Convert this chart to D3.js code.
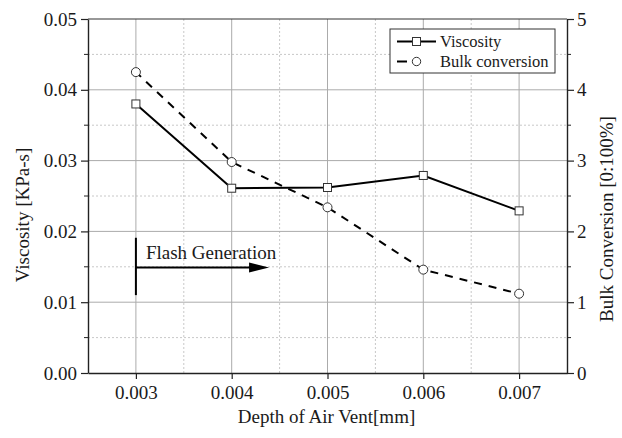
<!DOCTYPE html>
<html>
<head>
<meta charset="utf-8">
<script src="https://cdn.jsdelivr.net/npm/d3@7"></script>
<style>
  html, body { margin: 0; padding: 0; background: #fff; }
  svg { display: block; }
  svg text { font-family: "Liberation Serif", Tinos, "Times New Roman", Times, "Nimbus Roman", "DejaVu Serif", "Noto Serif", serif !important; }
</style>
</head>
<body>
<svg id="chart" width="622" height="438"></svg>
<script>
// Air vent depth (mm) on the x axis
const ventDepth = [0.003, 0.004, 0.005, 0.006, 0.007];
// Viscosity in KPa-s (left axis)
const viscosity = [0.0380, 0.0261, 0.0262, 0.0279, 0.0229];
// Bulk conversion on a 0..5 scale (right axis)
const bulkConversion = [4.25, 2.98, 2.34, 1.46, 1.12];

const xTicks = [0.003, 0.004, 0.005, 0.006, 0.007];
const xMinor = [0.0035, 0.0045, 0.0055, 0.0065];
const yLeftTicks = [0.00, 0.01, 0.02, 0.03, 0.04, 0.05];
const yLeftMinor = [0.005, 0.015, 0.025, 0.035, 0.045];
const yRightTicks = [0, 1, 2, 3, 4, 5];
const yRightMinor = [0.5, 1.5, 2.5, 3.5, 4.5];

const seriesNames = ["Viscosity", "Bulk conversion"];

// "Flash Generation" marker: starts at the first vent depth and points right
const flashStart = 0.003;
const flashEnd = 0.00439;
const flashLevel = 0.0149;
const flashSpan = [0.0110, 0.0191];
const flashText = "Flash Generation";

const W = 622, H = 438;
const m = { left: 88, right: 55, top: 19, bottom: 65 };
const iw = W - m.left - m.right, ih = H - m.top - m.bottom;

const svg = d3.select("#chart");
const g = svg.append("g").attr("transform", `translate(${m.left},${m.top})`);

const x = d3.scaleLinear().domain([0.0025, 0.0075]).range([0, iw]);
const yL = d3.scaleLinear().domain([0, 0.05]).range([ih, 0]);
const yR = d3.scaleLinear().domain([0, 5]).range([ih, 0]);

// grid: dotted minor lines, solid major lines
const grid = g.append("g");
grid.selectAll(".xm").data(xMinor).join("line")
  .attr("x1", d => x(d)).attr("x2", d => x(d)).attr("y1", 0).attr("y2", ih)
  .attr("stroke", "#c8c8c8").attr("stroke-dasharray", "2,2");
grid.selectAll(".ym").data(yLeftMinor).join("line")
  .attr("x1", 0).attr("x2", iw).attr("y1", d => yL(d)).attr("y2", d => yL(d))
  .attr("stroke", "#c8c8c8").attr("stroke-dasharray", "2,2");
grid.selectAll(".xM").data(xTicks).join("line")
  .attr("x1", d => x(d)).attr("x2", d => x(d)).attr("y1", 0).attr("y2", ih)
  .attr("stroke", "#ababab");
grid.selectAll(".yM").data(yLeftTicks.filter(d => d > 0 && d < 0.05)).join("line")
  .attr("x1", 0).attr("x2", iw).attr("y1", d => yL(d)).attr("y2", d => yL(d))
  .attr("stroke", "#ababab");

// top frame line
g.append("line").attr("x1", 0).attr("x2", iw).attr("y1", 0).attr("y2", 0)
  .attr("stroke", "#333").attr("stroke-width", 1.2);

const fontSize = 19;
function styleAxis(sel) {
  sel.attr("font-family", null).attr("font-size", null);
  sel.select(".domain").attr("stroke", "#222").attr("stroke-width", 1.4);
  sel.selectAll(".tick line").attr("stroke", "#222").attr("stroke-width", 1.2);
  sel.selectAll(".tick text").attr("fill", "#1a1a1a").style("font-size", fontSize + "px");
}

// minor ticks on the vertical axes
g.append("g").selectAll("line").data(yLeftMinor).join("line")
  .attr("x1", -4).attr("x2", 0).attr("y1", d => yL(d)).attr("y2", d => yL(d))
  .attr("stroke", "#222");
g.append("g").selectAll("line").data(yRightMinor).join("line")
  .attr("x1", iw).attr("x2", iw + 4).attr("y1", d => yR(d)).attr("y2", d => yR(d))
  .attr("stroke", "#222");

const xAxis = g.append("g").attr("transform", `translate(0,${ih})`)
  .call(d3.axisBottom(x).tickValues(xTicks).tickFormat(d3.format(".3f"))
    .tickSize(6).tickSizeOuter(0).tickPadding(7));
styleAxis(xAxis);

const yAxisL = g.append("g")
  .call(d3.axisLeft(yL).tickValues(yLeftTicks).tickFormat(d3.format(".2f"))
    .tickSize(7).tickSizeOuter(0).tickPadding(4));
styleAxis(yAxisL);

const yAxisR = g.append("g").attr("transform", `translate(${iw},0)`)
  .call(d3.axisRight(yR).tickValues(yRightTicks).tickFormat(d3.format("d"))
    .tickSize(7).tickSizeOuter(0).tickPadding(3));
styleAxis(yAxisR);

// axis titles
const titleStyle = s => s.attr("fill", "#1a1a1a").style("font-size", "19px").attr("text-anchor", "middle");
svg.append("text").attr("x", m.left + iw / 2 - 1).attr("y", 423)
  .text("Depth of Air Vent[mm]").call(titleStyle);
svg.append("text").attr("transform", `translate(29,${m.top + ih / 2 + 19}) rotate(-90)`)
  .text("Viscosity [KPa-s]").call(titleStyle);
svg.append("text").attr("transform", `translate(613,${m.top + ih / 2 + 23}) rotate(-90)`)
  .text("Bulk Conversion [0:100%]").call(titleStyle);

// series lines
const viscLine = d3.line().x((d, i) => x(ventDepth[i])).y(d => yL(d));
const bulkLine = d3.line().x((d, i) => x(ventDepth[i])).y(d => yR(d));

g.append("path").datum(bulkConversion).attr("d", bulkLine)
  .attr("fill", "none").attr("stroke", "#000").attr("stroke-width", 2)
  .attr("stroke-dasharray", "8,7").attr("stroke-dashoffset", -14);
g.append("path").datum(viscosity).attr("d", viscLine)
  .attr("fill", "none").attr("stroke", "#000").attr("stroke-width", 2);

// markers
const sq = 8;
g.append("g").selectAll("rect").data(viscosity).join("rect")
  .attr("x", (d, i) => x(ventDepth[i]) - sq / 2).attr("y", d => yL(d) - sq / 2)
  .attr("width", sq).attr("height", sq)
  .attr("fill", "#fff").attr("stroke", "#333").attr("stroke-width", 1);
g.append("g").selectAll("circle").data(bulkConversion).join("circle")
  .attr("cx", (d, i) => x(ventDepth[i])).attr("cy", d => yR(d)).attr("r", 4.5)
  .attr("fill", "#fff").attr("stroke", "#333").attr("stroke-width", 1);

// flash generation annotation
const ann = g.append("g");
ann.append("line")
  .attr("x1", x(flashStart)).attr("x2", x(flashStart))
  .attr("y1", yL(flashSpan[0])).attr("y2", yL(flashSpan[1]))
  .attr("stroke", "#000").attr("stroke-width", 2);
const ax0 = x(flashStart), ax1 = x(flashEnd), ay = yL(flashLevel);
ann.append("line").attr("x1", ax0).attr("x2", ax1 - 16).attr("y1", ay).attr("y2", ay)
  .attr("stroke", "#000").attr("stroke-width", 2);
ann.append("path")
  .attr("d", `M${ax1},${ay} L${ax1 - 20},${ay - 5} L${ax1 - 20},${ay + 5} Z`)
  .attr("fill", "#000");
ann.append("text").attr("x", ax0 + 10).attr("y", ay - 8.5)
  .attr("fill", "#1a1a1a").style("font-size", "19px").text(flashText);

// legend
const lg = svg.append("g").attr("transform", "translate(390,29)");
lg.append("rect").attr("width", 165).attr("height", 44)
  .attr("fill", "#fff").attr("stroke", "#333").attr("stroke-width", 1);
const rows = lg.selectAll(".row").data(seriesNames).join("g")
  .attr("transform", (d, i) => `translate(0,${12.5 + i * 20})`);
rows.append("line").attr("x1", 7).attr("x2", 46).attr("y1", 0).attr("y2", 0)
  .attr("stroke", "#000").attr("stroke-width", 2)
  .attr("stroke-dasharray", (d, i) => i === 0 ? null : "10,29");
rows.filter((d, i) => i === 0).append("rect")
  .attr("x", 22.5).attr("y", -4).attr("width", 8).attr("height", 8)
  .attr("fill", "#fff").attr("stroke", "#333");
rows.filter((d, i) => i === 1).append("circle")
  .attr("cx", 26.5).attr("cy", 0).attr("r", 4.2)
  .attr("fill", "#fff").attr("stroke", "#333");
rows.append("text").attr("x", 50).attr("y", 5.5)
  .attr("fill", "#1a1a1a").style("font-size", "16.5px").text(d => d);
</script>
</body>
</html>
